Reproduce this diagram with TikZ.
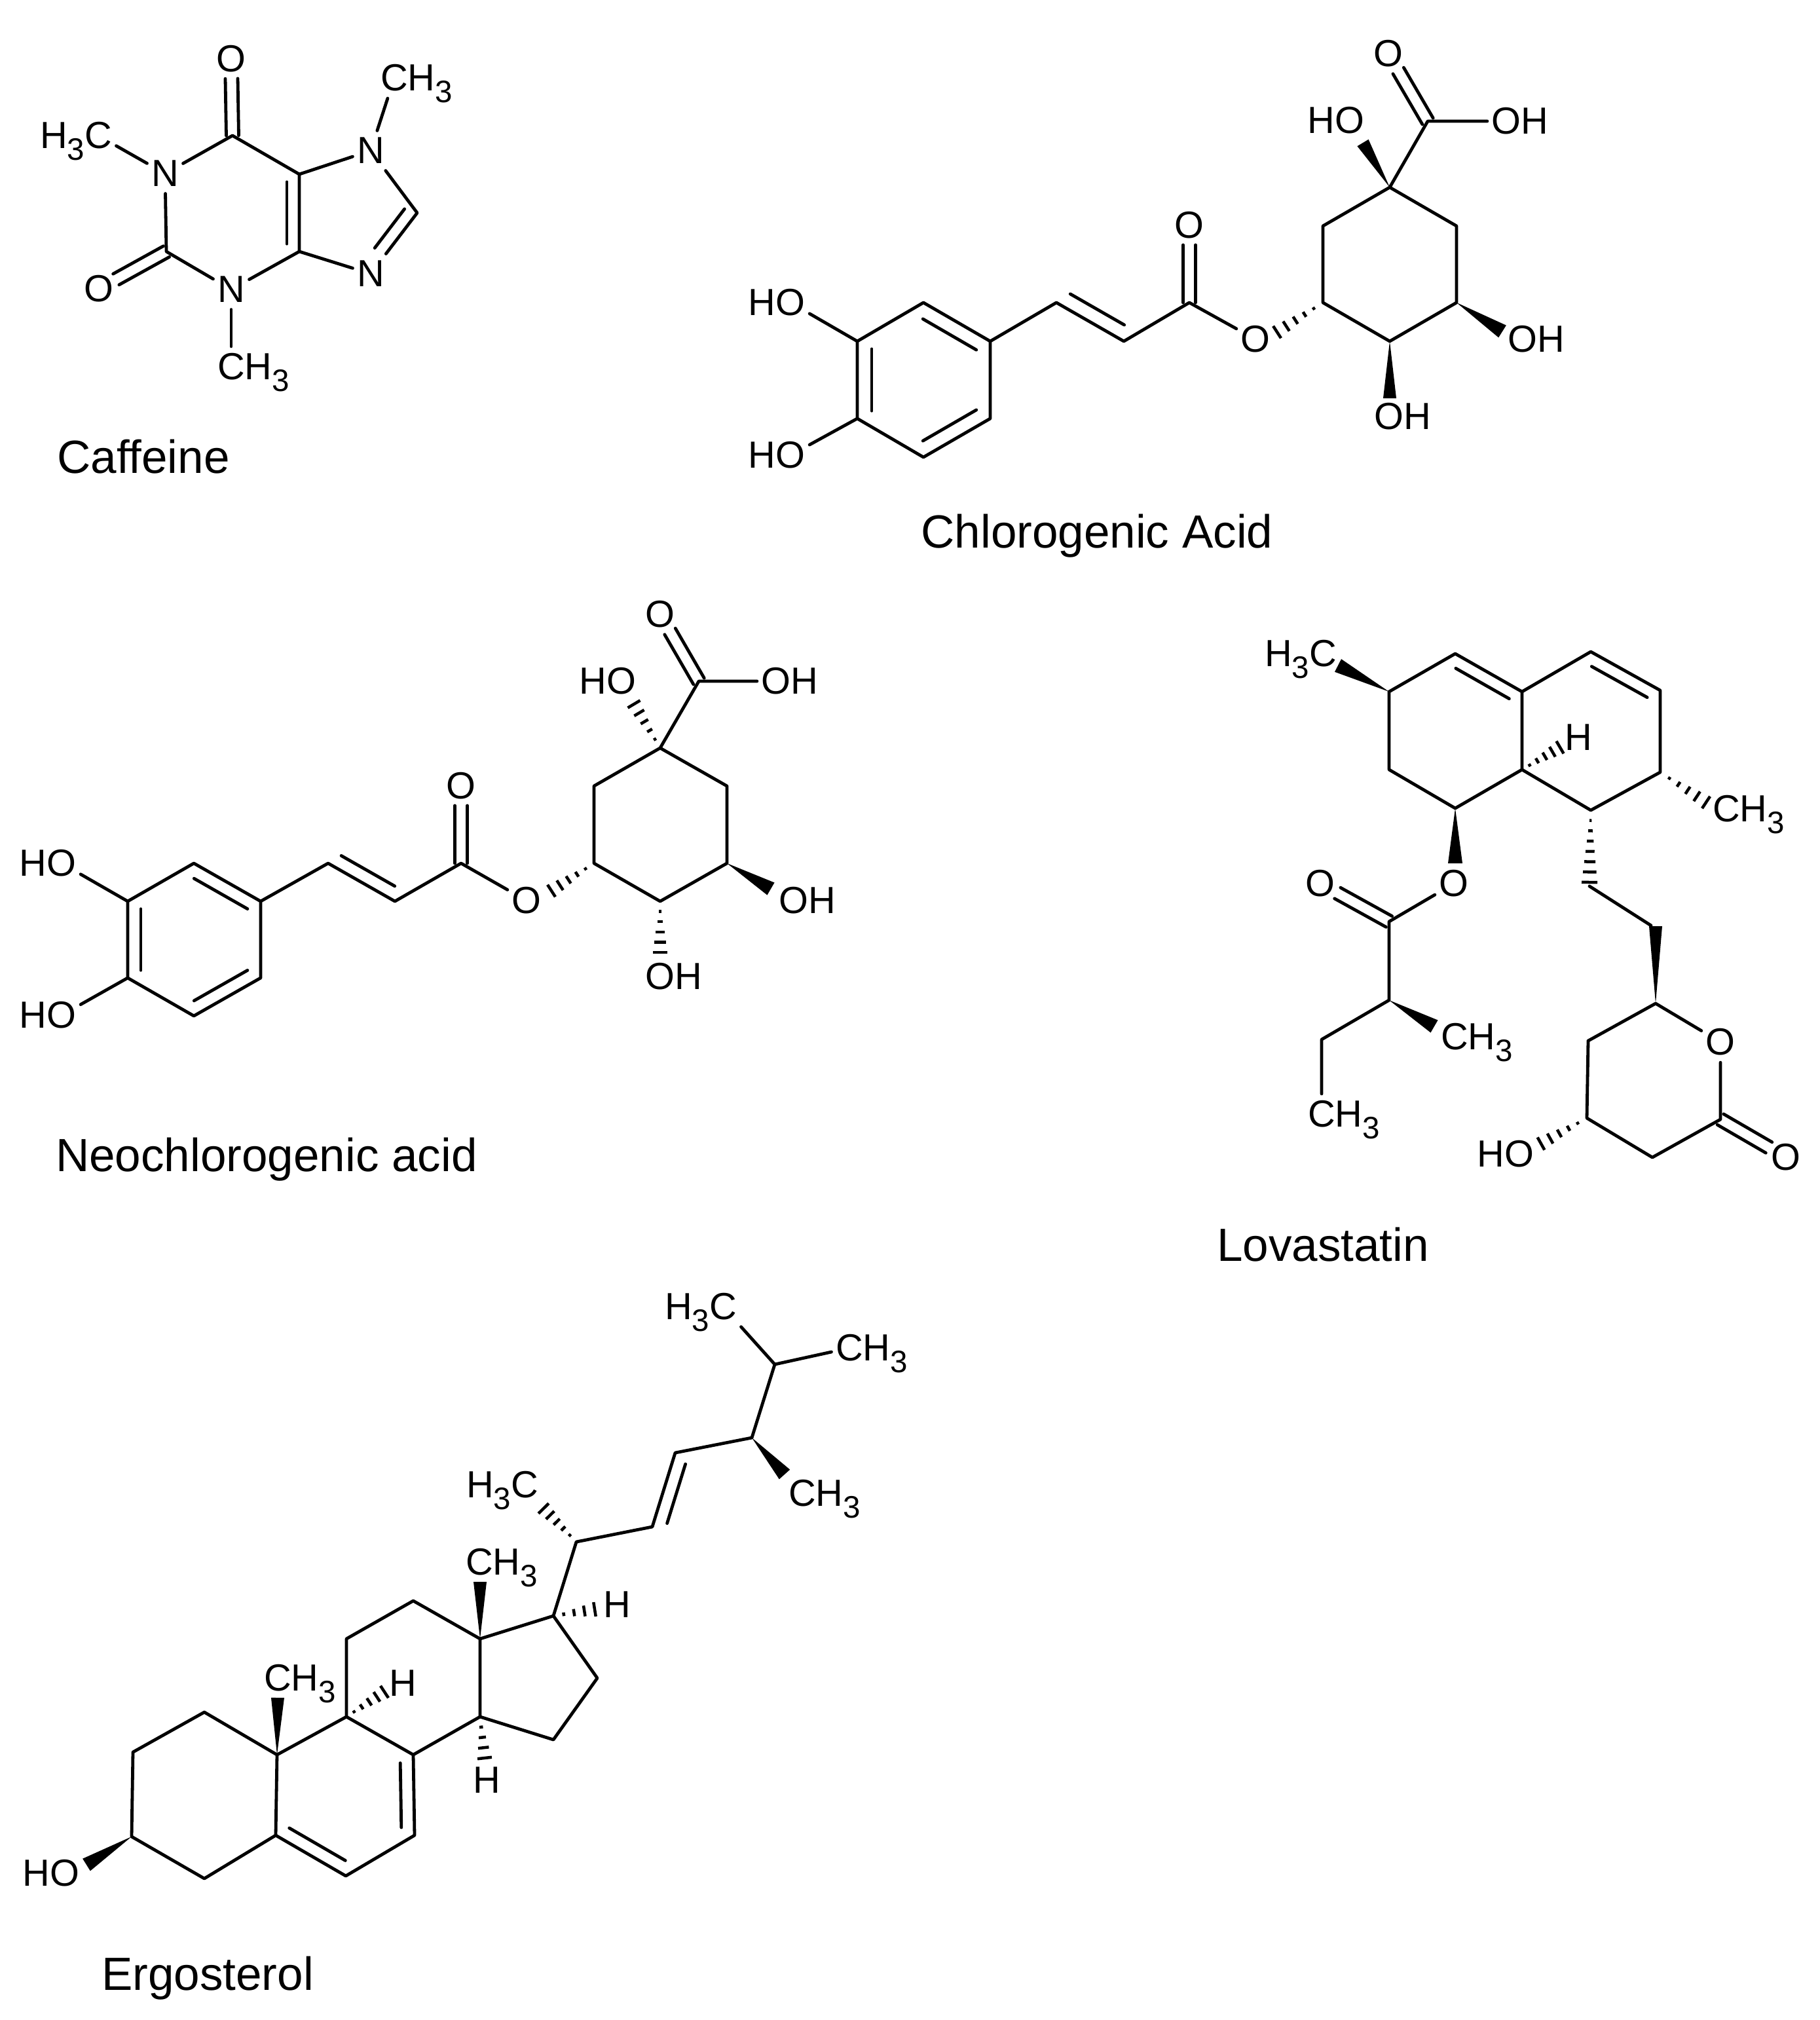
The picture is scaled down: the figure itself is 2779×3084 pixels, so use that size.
\documentclass[tikz,border=0pt]{standalone}
\usepackage{fontspec}
\setmainfont{Liberation Sans}
\usetikzlibrary{calc}
\newcommand{\atomR}[1]{\smash{\rlap{#1}}}
\newcommand{\atomL}[1]{\smash{\llap{#1}}}
\newcommand{\subthree}{\raisebox{-.3em}{\fontsize{13.5pt}{14pt}\selectfont 3}}
\def\innerbond[#1](#2)(#3){\draw[bond] ($(#2)!.1!(#3)!#1!90:(#3)$) -- ($(#3)!.1!(#2)!-#1!90:(#2)$);}
\def\dblbond(#1)(#2){\draw[bond,shorten >=.3cm] ($(#1)!.095cm!90:(#2)$) -- ($(#2)!-.095cm!90:(#1)$); \draw[bond,shorten >=.3cm] ($(#1)!-.095cm!90:(#2)$) -- ($(#2)!.095cm!90:(#1)$);}
\def\wedgebond[#1](#2)(#3){\fill ($(#3)!#1!90:(#2)$) -- (#2) -- ($(#3)!-#1!90:(#2)$) -- cycle;}
\def\hashbond[#1,#2](#3)(#4){\foreach \i in {1,...,#1}{\pgfmathsetmacro\t{\i/#1}\draw[hash] ($(#3)!\t!(#4)!\t*#2!90:(#3)$) -- ($(#3)!\t!(#4)!-\t*#2!90:(#3)$);}}
\tikzset{
	bond/.style={line width=.048cm,line cap=round,line join=round},
	hash/.style={line width=.045cm},
	atom/.style={font=\fontsize{16.4pt}{18pt}\selectfont,inner xsep=.06cm,inner ysep=.1cm},
	caption/.style={font=\fontsize{20.2pt}{24pt}\selectfont,anchor=base,inner sep=0pt},
}

\begin{document}
\begin{tikzpicture}[x=.01cm,y=-.01cm]
			\useasboundingbox (0,0) rectangle (2779,3084);
			
			%%%%% CAFFEINE %%%%%
			
			\coordinate (cf-c6) at (355,207);
			\coordinate (cf-c5) at (457,266);
			\coordinate (cf-c4) at (457,384);
			\coordinate (cf-c2) at (254,384);
			\coordinate (cf-c8) at (637,325);
			\node[atom] (cf-n1) at (252,265) {N};
			\node[atom] (cf-n3) at (353,442) {N};
			\node[atom] (cf-n7) at (566,230) {N};
			\node[atom] (cf-n9) at (566,418) {N};
			\node[atom] (cf-o6) at (353,90) {O};
			\node[atom] (cf-o2) at (151,441) {O};
			\node[atom] (cf-m1) at (150,207) {\atomL{H\subthree}C};
			\node[atom] (cf-m3) at (353,560) {C\atomR{H\subthree}};
			\node[atom] (cf-m7) at (602,119) {C\atomR{H\subthree}};
			
			\draw[bond] (cf-n1) -- (cf-c6) -- (cf-c5) -- (cf-c4) -- (cf-n3) -- (cf-c2) -- (cf-n1);
			\draw[bond] (cf-c5) -- (cf-n7) -- (cf-c8) -- (cf-n9) -- (cf-c4);
			\draw[bond] (cf-m1) -- (cf-n1);
			\draw[bond] (cf-n3) -- (cf-m3);
			\draw[bond] (cf-n7) -- (cf-m7);
			\innerbond[.19cm](cf-c4)(cf-c5);
			\draw[bond] ($(cf-c8)!.06!(cf-n9)!-.19cm!90:(cf-n9)$) -- ($(cf-n9)!.3!(cf-c8)!.19cm!90:(cf-c8)$);
			\dblbond(cf-c6)(cf-o6);
			\dblbond(cf-c2)(cf-o2);
			
			\node[caption] (cf-name) at (219,722) {Caffeine};
			
			%%%%% CHLOROGENIC ACID %%%%%
			
			\coordinate (cg-c1) at (2122,286);
			\coordinate (cg-c2) at (2020,345);
			\coordinate (cg-c3) at (2224,345);
			\coordinate (cg-c4) at (2020,462);
			\coordinate (cg-c5) at (2224,462);
			\coordinate (cg-c6) at (2122,521);
			\coordinate (cg-cx) at (2180,185);
			\coordinate (cg-ce) at (1816,462);
			\coordinate (cg-ca) at (1716,521);
			\coordinate (cg-cb) at (1613,462);
			\coordinate (cg-a1) at (1512,521);
			\coordinate (cg-a2) at (1410,462);
			\coordinate (cg-a3) at (1309,521);
			\coordinate (cg-a4) at (1309,639);
			\coordinate (cg-a5) at (1410,698);
			\coordinate (cg-a6) at (1512,639);
			\coordinate (cg-w1) at (2081,218);
			\coordinate (cg-w5) at (2294,506);
			\coordinate (cg-w6) at (2122,608);
			\coordinate (cg-w4) at (1950,507);
			\node[atom] (cg-ox) at (2120,82) {O};
			\node[atom] (cg-oh) at (2300,185) {O\atomR{H}};
			\node[atom] (cg-o1) at (2061,184) {\atomL{H}O};
			\node[atom] (cg-o5) at (2325,518) {O\atomR{H}};
			\node[atom] (cg-o6) at (2121,636) {O\atomR{H}};
			\node[atom] (cg-oe) at (1917,518) {O};
			\node[atom] (cg-oc) at (1816,344) {O};
			\node[atom] (cg-o3) at (1207,462) {\atomL{H}O};
			\node[atom] (cg-o4) at (1207,695) {\atomL{H}O};
			
			\draw[bond] (cg-c1) -- (cg-c2) -- (cg-c4) -- (cg-c6) -- (cg-c5) -- (cg-c3) -- (cg-c1);
			\draw[bond] (cg-c1) -- (cg-cx) -- (cg-oh);
			\draw[bond] (cg-oe) -- (cg-ce) -- (cg-ca) -- (cg-cb) -- (cg-a1);
			\draw[bond] (cg-a1) -- (cg-a2) -- (cg-a3) -- (cg-a4) -- (cg-a5) -- (cg-a6) -- (cg-a1);
			\draw[bond] (cg-a3) -- (cg-o3);
			\draw[bond] (cg-a4) -- (cg-o4);
			\innerbond[.22cm](cg-a1)(cg-a2);
			\innerbond[.22cm](cg-a3)(cg-a4);
			\innerbond[.22cm](cg-a5)(cg-a6);
			\innerbond[.22cm](cg-cb)(cg-ca);
			\dblbond(cg-cx)(cg-ox);
			\dblbond(cg-ce)(cg-oc);
			\wedgebond[.1cm](cg-c1)(cg-w1);
			\wedgebond[.11cm](cg-c5)(cg-w5);
			\wedgebond[.1cm](cg-c6)(cg-w6);
			\hashbond[5,.11cm](cg-c4)(cg-w4);
			
			\node[caption] (cg-name) at (1675,836) {Chlorogenic Acid};
			
			%%%%% NEOCHLOROGENIC ACID %%%%%
			
			\coordinate (nc-c1) at (1008,1142);
			\coordinate (nc-c2) at (907,1200);
			\coordinate (nc-c3) at (1110,1200);
			\coordinate (nc-c4) at (907,1318);
			\coordinate (nc-c5) at (1110,1318);
			\coordinate (nc-c6) at (1008,1376);
			\coordinate (nc-cx) at (1067,1040);
			\coordinate (nc-ce) at (704,1318);
			\coordinate (nc-ca) at (603,1376);
			\coordinate (nc-cb) at (501,1318);
			\coordinate (nc-a1) at (398,1376);
			\coordinate (nc-a2) at (296,1318);
			\coordinate (nc-a3) at (195,1376);
			\coordinate (nc-a4) at (195,1493);
			\coordinate (nc-a5) at (296,1551);
			\coordinate (nc-a6) at (398,1493);
			\coordinate (nc-w1) at (968,1075);
			\coordinate (nc-w5) at (1177,1357);
			\coordinate (nc-w6) at (1008,1454);
			\coordinate (nc-w4) at (842,1360);
			\node[atom] (nc-ox) at (1008,938) {O};
			\node[atom] (nc-oh) at (1185,1040) {O\atomR{H}};
			\node[atom] (nc-o1) at (949,1040) {\atomL{H}O};
			\node[atom] (nc-o5) at (1212,1375) {O\atomR{H}};
			\node[atom] (nc-o6) at (1008,1491) {O\atomR{H}};
			\node[atom] (nc-oe) at (804,1375) {O};
			\node[atom] (nc-oc) at (704,1200) {O};
			\node[atom] (nc-o3) at (94,1318) {\atomL{H}O};
			\node[atom] (nc-o4) at (94,1550) {\atomL{H}O};
			
			\draw[bond] (nc-c1) -- (nc-c2) -- (nc-c4) -- (nc-c6) -- (nc-c5) -- (nc-c3) -- (nc-c1);
			\draw[bond] (nc-c1) -- (nc-cx) -- (nc-oh);
			\draw[bond] (nc-oe) -- (nc-ce) -- (nc-ca) -- (nc-cb) -- (nc-a1);
			\draw[bond] (nc-a1) -- (nc-a2) -- (nc-a3) -- (nc-a4) -- (nc-a5) -- (nc-a6) -- (nc-a1);
			\draw[bond] (nc-a3) -- (nc-o3);
			\draw[bond] (nc-a4) -- (nc-o4);
			\innerbond[.2cm](nc-a1)(nc-a2);
			\innerbond[.2cm](nc-a3)(nc-a4);
			\innerbond[.2cm](nc-a5)(nc-a6);
			\innerbond[.2cm](nc-cb)(nc-ca);
			\dblbond(nc-cx)(nc-ox);
			\dblbond(nc-ce)(nc-oc);
			\hashbond[5,.11cm](nc-c1)(nc-w1);
			\wedgebond[.11cm](nc-c5)(nc-w5);
			\hashbond[5,.11cm](nc-c6)(nc-w6);
			\hashbond[5,.11cm](nc-c4)(nc-w4);
			
			\node[caption] (nc-name) at (407,1788) {Neochlorogenic acid};
			
			%%%%% LOVASTATIN %%%%%
			
			\coordinate (lv-c1) at (2121,1056);
			\coordinate (lv-c2) at (2222,998);
			\coordinate (lv-c3) at (2324,1056);
			\coordinate (lv-c4) at (2429,995);
			\coordinate (lv-c5) at (2535,1054);
			\coordinate (lv-c6) at (2535,1179);
			\coordinate (lv-c7) at (2429,1237);
			\coordinate (lv-c8) at (2324,1175);
			\coordinate (lv-c9) at (2222,1234);
			\coordinate (lv-c10) at (2121,1175);
			\coordinate (lv-ce) at (2121,1407);
			\coordinate (lv-ca) at (2121,1527);
			\coordinate (lv-cb) at (2018,1587);
			\coordinate (lv-s1) at (2427,1353);
			\coordinate (lv-s2) at (2521,1413);
			\coordinate (lv-r1) at (2528,1532);
			\coordinate (lv-r3) at (2627,1709);
			\coordinate (lv-r4) at (2523,1767);
			\coordinate (lv-r5) at (2423,1707);
			\coordinate (lv-r6) at (2425,1589);
			\coordinate (lv-w1) at (2043,1016);
			\coordinate (lv-w2) at (2382,1141);
			\coordinate (lv-w3) at (2605,1225);
			\coordinate (lv-w4) at (2222,1318);
			\coordinate (lv-w5) at (2190,1567);
			\coordinate (lv-w6) at (2528,1414);
			\coordinate (lv-w7) at (2353,1746);
			\coordinate (lv-w8) at (2427,1347);
			\node[atom] (lv-m1) at (2020,998) {\atomL{H\subthree}C};
			\node[atom] (lv-h1) at (2410,1126) {H};
			\node[atom] (lv-m2) at (2636,1235) {C\atomR{H\subthree}};
			\node[atom] (lv-o1) at (2220,1349) {O};
			\node[atom] (lv-o2) at (2016,1349) {O};
			\node[atom] (lv-m3) at (2221,1583) {C\atomR{H\subthree}};
			\node[atom] (lv-m4) at (2018,1701) {C\atomR{H\subthree}};
			\node[atom] (lv-o3) at (2627,1591) {O};
			\node[atom] (lv-o4) at (2727,1767) {O};
			\node[atom] (lv-o5) at (2320,1762) {\atomL{H}O};
			
			\draw[bond] (lv-c1) -- (lv-c2) -- (lv-c3) -- (lv-c8) -- (lv-c9) -- (lv-c10) -- (lv-c1);
			\draw[bond] (lv-c3) -- (lv-c4) -- (lv-c5) -- (lv-c6) -- (lv-c7) -- (lv-c8);
			\draw[bond] (lv-o1) -- (lv-ce) -- (lv-ca) -- (lv-cb) -- (lv-m4);
			\draw[bond] (lv-s1) -- (lv-s2);
			\draw[bond] (lv-r6) -- (lv-r1) -- (lv-o3) -- (lv-r3) -- (lv-r4) -- (lv-r5) -- (lv-r6);
			\innerbond[.19cm](lv-c3)(lv-c2);
			\innerbond[.19cm](lv-c5)(lv-c4);
			\dblbond(lv-ce)(lv-o2);
			\dblbond(lv-r3)(lv-o4);
			\wedgebond[.11cm](lv-c1)(lv-w1);
			\wedgebond[.11cm](lv-c9)(lv-w4);
			\wedgebond[.11cm](lv-ca)(lv-w5);
			\wedgebond[.1cm](lv-r1)(lv-w6);
			\hashbond[5,.11cm](lv-c8)(lv-w2);
			\hashbond[5,.11cm](lv-c6)(lv-w3);
			\hashbond[7,.12cm](lv-c7)(lv-w8);
			\hashbond[5,.11cm](lv-r5)(lv-w7);
			
			\node[caption] (lv-name) at (2020,1925) {Lovastatin};
			
			%%%%% ERGOSTEROL %%%%%
			
			\coordinate (eg-c1) at (312,2614);
			\coordinate (eg-c2) at (203,2675);
			\coordinate (eg-c3) at (201,2804);
			\coordinate (eg-c4) at (312,2868);
			\coordinate (eg-c5) at (421,2802);
			\coordinate (eg-c6) at (528,2864);
			\coordinate (eg-c7) at (633,2802);
			\coordinate (eg-c8) at (631,2679);
			\coordinate (eg-c9) at (529,2621);
			\coordinate (eg-c10) at (423,2679);
			\coordinate (eg-c11) at (529,2502);
			\coordinate (eg-c12) at (631,2444);
			\coordinate (eg-c13) at (733,2502);
			\coordinate (eg-c14) at (733,2621);
			\coordinate (eg-c15) at (845,2656);
			\coordinate (eg-c16) at (912,2562);
			\coordinate (eg-c17) at (845,2467);
			\coordinate (eg-c20) at (880,2354);
			\coordinate (eg-c22) at (996,2331);
			\coordinate (eg-c23) at (1031,2218);
			\coordinate (eg-c24) at (1148,2195);
			\coordinate (eg-c25) at (1183,2083);
			\coordinate (eg-w1) at (132,2847);
			\coordinate (eg-w2) at (424,2592);
			\coordinate (eg-w3) at (587,2583);
			\coordinate (eg-w4) at (740,2684);
			\coordinate (eg-w5) at (733,2415);
			\coordinate (eg-w6) at (908,2457);
			\coordinate (eg-w7) at (830,2303);
			\coordinate (eg-w8) at (1198,2251);
			\node[atom] (eg-o1) at (99,2860) {\atomL{H}O};
			\node[atom] (eg-m1) at (424,2562) {C\atomR{H\subthree}};
			\node[atom] (eg-h1) at (615,2570) {H};
			\node[atom] (eg-h2) at (743,2718) {H};
			\node[atom] (eg-m2) at (732,2385) {C\atomR{H\subthree}};
			\node[atom] (eg-h3) at (942,2450) {H};
			\node[atom] (eg-m3) at (801,2267) {\atomL{H\subthree}C};
			\node[atom] (eg-m4) at (1225,2280) {C\atomR{H\subthree}};
			\node[atom] (eg-m5) at (1104,1995) {\atomL{H\subthree}C};
			\node[atom] (eg-m6) at (1297,2058) {C\atomR{H\subthree}};
			
			\draw[bond] (eg-c1) -- (eg-c2) -- (eg-c3) -- (eg-c4) -- (eg-c5) -- (eg-c10) -- (eg-c1);
			\draw[bond] (eg-c5) -- (eg-c6) -- (eg-c7) -- (eg-c8) -- (eg-c9) -- (eg-c10);
			\draw[bond] (eg-c9) -- (eg-c11) -- (eg-c12) -- (eg-c13) -- (eg-c14) -- (eg-c8);
			\draw[bond] (eg-c14) -- (eg-c15) -- (eg-c16) -- (eg-c17) -- (eg-c13);
			\draw[bond] (eg-c17) -- (eg-c20) -- (eg-c22) -- (eg-c23) -- (eg-c24) -- (eg-c25);
			\draw[bond] (eg-c25) -- (eg-m5);
			\draw[bond] (eg-c25) -- (eg-m6);
			\innerbond[.2cm](eg-c5)(eg-c6);
			\innerbond[.2cm](eg-c7)(eg-c8);
			\innerbond[.2cm](eg-c23)(eg-c22);
			\wedgebond[.11cm](eg-c3)(eg-w1);
			\wedgebond[.1cm](eg-c10)(eg-w2);
			\wedgebond[.1cm](eg-c13)(eg-w5);
			\wedgebond[.11cm](eg-c24)(eg-w8);
			\hashbond[5,.11cm](eg-c9)(eg-w3);
			\hashbond[4,.11cm](eg-c14)(eg-w4);
			\hashbond[4,.11cm](eg-c17)(eg-w6);
			\hashbond[5,.11cm](eg-c20)(eg-w7);
			
			\node[caption] (eg-name) at (317,3038) {Ergosterol};
			
			%%%%% END %%%%%
		\end{tikzpicture}
\end{document}
